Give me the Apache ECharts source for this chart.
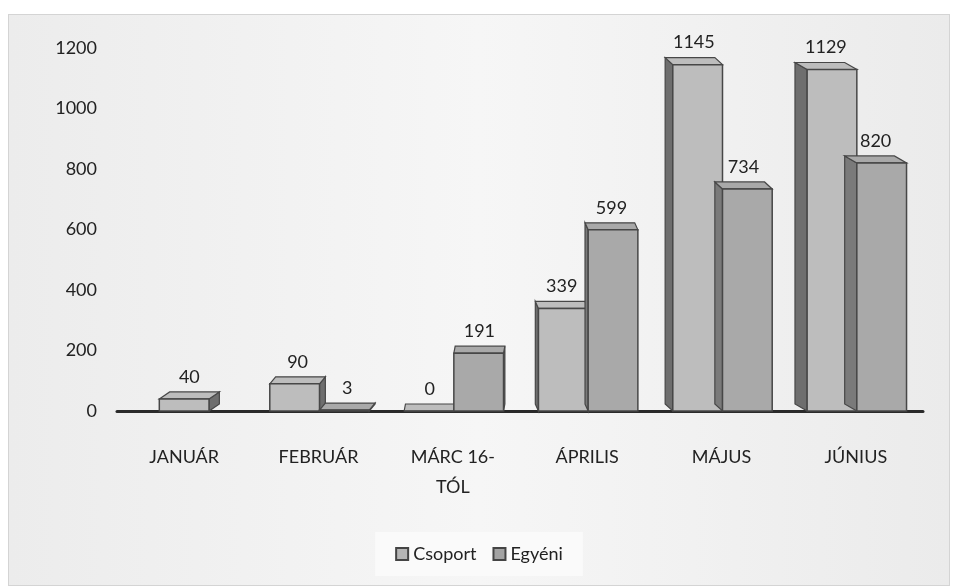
<!DOCTYPE html>
<html>
<head>
<meta charset="utf-8">
<script src="https://cdn.jsdelivr.net/npm/echarts@6/dist/echarts.min.js"></script>
<style>
  html, body { margin: 0; padding: 0; background: #ffffff; }
  #chart {
    position: absolute; left: 8px; top: 14px; width: 940px; height: 570px;
    background: linear-gradient(90deg, #ececec 0%, #f6f6f6 50%, #ebebeb 100%);
    border: 1px solid #d4d4d4;
  }
</style>
</head>
<body>
<div id="chart"></div>
<script>
// adatok
const categories = ['JANUÁR', 'FEBRUÁR', 'MÁRC 16-\nTÓL', 'ÁPRILIS', 'MÁJUS', 'JÚNIUS']
const csoport = [40, 90, 0, 339, 1145, 1129]
const egyeni = [null, 3, 191, 599, 734, 820]
const yTicks = [0, 200, 400, 600, 800, 1000, 1200]

const chart = echarts.init(document.getElementById('chart'))
const fontName = 'Lato'

// 3D-s oszlop rajzolása: elülső lap + tető + oldallap
const makeRender = (seriesIdx, face, side) => (params, api) => {
  const idx = api.value(0)
  const val = api.value(1)
  if (val == null || isNaN(val)) return null
  const top = api.coord([idx, val])
  const base = api.coord([idx, 0])
  const band = api.size([1, 0])[0]
  const w = band * 0.37
  const other = seriesIdx === 0 ? egyeni[idx] : csoport[idx]
  let x
  if (other == null) x = top[0] - w / 2
  else x = seriesIdx === 0 ? top[0] - w + 1 : top[0] + 1
  const y = top[1]
  const yb = base[1]
  const dx = -(idx - 2.3) * 4.5
  const dy = -7
  const stroke = '#474747'
  const sideX = dx > 0 ? x + w : x
  return {
    type: 'group',
    children: [
      {
        type: 'polygon',
        shape: { points: [[sideX, y], [sideX + dx, y + dy], [sideX + dx, yb + dy], [sideX, yb]] },
        style: { fill: side, stroke: stroke, lineWidth: 1.2 }
      },
      {
        type: 'polygon',
        shape: { points: [[x, y], [x + dx, y + dy], [x + w + dx, y + dy], [x + w, y]] },
        style: { fill: face, stroke: stroke, lineWidth: 1.2 }
      },
      {
        type: 'rect',
        shape: { x: x, y: y, width: w, height: yb - y },
        style: { fill: face, stroke: stroke, lineWidth: 1.5 }
      },
      {
        type: 'text',
        style: {
          text: String(val),
          x: x + w / 2 + dx / 2,
          y: y + dy - 6,
          align: 'center',
          verticalAlign: 'bottom',
          font: '18px ' + fontName,
          fill: '#222'
        }
      }
    ]
  }
}

const option = {
  animation: false,
  textStyle: { fontFamily: fontName },
  grid: { left: 108, right: 26, top: 33, bottom: 174 },
  legend: {
    bottom: 9,
    left: 'center',
    icon: 'rect',
    itemWidth: 12,
    itemHeight: 12,
    itemGap: 16,
    padding: [13, 20],
    backgroundColor: '#fafafa',
    textStyle: { fontSize: 18, color: '#222' },
    data: ['Csoport', 'Egyéni']
  },
  xAxis: {
    type: 'category',
    data: categories,
    axisLine: { lineStyle: { color: '#2a2a2a', width: 3 } },
    axisTick: { show: false },
    axisLabel: { fontSize: 18, color: '#222', margin: 31, lineHeight: 30, interval: 0 }
  },
  yAxis: {
    type: 'value',
    min: yTicks[0],
    max: yTicks[yTicks.length - 1],
    interval: 200,
    axisLine: { show: false },
    axisTick: { show: false },
    splitLine: { show: false },
    axisLabel: { fontSize: 18, color: '#222', margin: 20, formatter: v => String(v) }
  },
  series: [
    {
      name: 'Csoport',
      type: 'custom',
      renderItem: makeRender(0, '#bdbdbd', '#6e6e6e'),
      itemStyle: { color: '#b5b5b5', borderColor: '#444', borderWidth: 2 },
      data: categories.map((c, i) => [i, csoport[i]])
    },
    {
      name: 'Egyéni',
      type: 'custom',
      renderItem: makeRender(1, '#a9a9a9', '#7a7a7a'),
      itemStyle: { color: '#a3a3a3', borderColor: '#444', borderWidth: 2 },
      data: categories.map((c, i) => [i, egyeni[i]])
    }
  ]
}

chart.setOption(option)
</script>
</body>
</html>
